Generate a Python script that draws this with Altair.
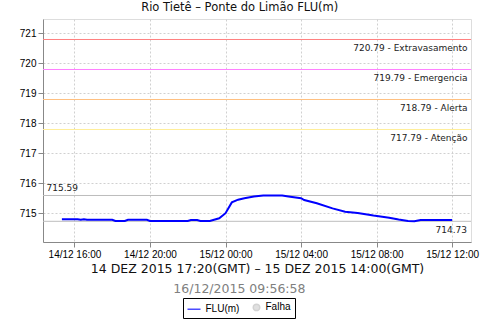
import altair as alt
import pandas as pd

# ---- data ----
times = ["2015-12-14T15:20", "2015-12-14T16:10", "2015-12-14T16:20", "2015-12-14T16:30",
         "2015-12-14T16:40", "2015-12-14T18:00", "2015-12-14T18:10", "2015-12-14T18:40",
         "2015-12-14T18:50", "2015-12-14T19:50", "2015-12-14T20:00", "2015-12-14T22:00",
         "2015-12-14T22:10", "2015-12-14T22:30", "2015-12-14T22:40", "2015-12-14T23:10",
         "2015-12-14T23:40", "2015-12-15T00:00", "2015-12-15T00:20", "2015-12-15T00:40",
         "2015-12-15T01:00", "2015-12-15T01:30", "2015-12-15T02:00", "2015-12-15T03:00",
         "2015-12-15T03:20", "2015-12-15T04:00", "2015-12-15T04:10", "2015-12-15T04:50",
         "2015-12-15T05:40", "2015-12-15T06:20", "2015-12-15T07:00", "2015-12-15T07:50",
         "2015-12-15T08:40", "2015-12-15T09:10", "2015-12-15T09:40", "2015-12-15T10:00",
         "2015-12-15T10:20", "2015-12-15T12:00"]
values = [714.80, 714.80, 714.78, 714.80, 714.78, 714.78, 714.74, 714.74,
          714.78, 714.78, 714.74, 714.74, 714.77, 714.77, 714.74, 714.74,
          714.83, 715.00, 715.36, 715.45, 715.50, 715.56, 715.59, 715.59,
          715.56, 715.50, 715.44, 715.33, 715.16, 715.05, 715.01, 714.92,
          714.85, 714.79, 714.74, 714.73, 714.77, 714.77]

level_values = [720.79, 719.79, 718.79, 717.79]
level_labels = ["720.79 - Extravasamento", "719.79 - Emergencia", "718.79 - Alerta", "717.79 - Atenção"]
level_colors = ["#ff8080", "#ff80ff", "#ffc080", "#ffee99"]

max_value = 715.59
min_value = 714.73

x_start = "2015-12-14T14:20:00Z"
x_end = "2015-12-15T13:00:00Z"
tick_times = [(14, 16), (14, 20), (15, 0), (15, 4), (15, 8), (15, 12)]
y_ticks = [715, 716, 717, 718, 719, 720, 721]
y_domain = [714.04, 721.4733]

title_text = "Rio Tietê – Ponte do Limão FLU(m)"
period_text = "14 DEZ 2015 17:20(GMT) – 15 DEZ 2015 14:00(GMT)"
stamp_text = "16/12/2015 09:56:58"
legend_names = ["FLU(m)", "Falha"]
legend_colors = ["#0000ff", "#c0c0c0"]

FONT = "DejaVu Sans"
W, H = 428, 223

series = pd.DataFrame({"t": [s + ":00Z" for s in times], "v": values})
levels = pd.DataFrame({"v": level_values, "label": level_labels, "c": level_colors,
                       "t": [x_end] * len(level_values)})
extremes = pd.DataFrame({"v": [max_value, min_value],
                         "label": [f"{max_value:.2f}", f"{min_value:.2f}"],
                         "tl": [x_start, x_start], "tr": [x_end, x_end]})

xscale = alt.Scale(type="utc", domain=[x_start, x_end])
yscale = alt.Scale(domain=y_domain, nice=False, zero=False)

xaxis = alt.Axis(
    values=[alt.DateTime(year=2015, month=12, date=d, hours=h, utc=True) for d, h in tick_times],
    labelExpr="utcFormat(datum.value, '%d/%m %H:%M')",
    title=period_text, titleFont=FONT, titleFontSize=12.5, titleFontWeight="normal",
    titleColor="#111", titleBaseline="alphabetic", titleY=30.7,
    grid=True, gridDash=[2, 2], gridColor="#d0d0d0",
    labelFlush=False, labelOverlap=False,
)
yaxis = alt.Axis(values=y_ticks, format="d", title=None, grid=True,
                 gridDash=[2, 2], gridColor="#d0d0d0", labelOverlap=False)


def X(field):
    return alt.X(field, scale=xscale, axis=xaxis)


def Y(field):
    return alt.Y(field, scale=yscale, axis=yaxis)


level_rules = alt.Chart(levels).mark_rule(strokeWidth=1).encode(
    y=Y("v:Q"), color=alt.Color("c:N", scale=None)
)
ext_rules = alt.Chart(extremes).mark_rule(color="#bdbdbd", strokeWidth=1).encode(y=Y("v:Q"))

line = alt.Chart(series).mark_line(color="#0000ff", strokeWidth=2).encode(
    x=X("t:T"), y=Y("v:Q"),
)

level_text = alt.Chart(levels).mark_text(
    align="right", baseline="alphabetic", dx=-3.5, dy=11.3, font=FONT, fontSize=9, color="#222"
).encode(x=X("t:T"), y=Y("v:Q"), text="label:N")

max_text = alt.Chart(extremes.iloc[[0]]).mark_text(
    align="left", baseline="alphabetic", dx=3.5, dy=-4.7, font=FONT, fontSize=9, color="#222"
).encode(x=X("tl:T"), y=Y("v:Q"), text="label:N")
min_text = alt.Chart(extremes.iloc[[1]]).mark_text(
    align="right", baseline="alphabetic", dx=-4, dy=12, font=FONT, fontSize=9, color="#222"
).encode(x=X("tr:T"), y=Y("v:Q"), text="label:N")

stamp = alt.Chart(pd.DataFrame({"s": [stamp_text]})).mark_text(
    align="center", baseline="alphabetic", font=FONT, fontSize=12.5, color="#808080"
).encode(x=alt.value(196.4), y=alt.value(273.7), text="s:N")


def leg():
    return alt.Legend(title=None, orient="none", legendX=140, legendY=279,
                      direction="horizontal", strokeColor="#000000", fillColor="#ffffff",
                      padding=3.5, cornerRadius=0)


legend_df = pd.DataFrame({"serie": legend_names})
legend_layer = alt.Chart(legend_df).transform_filter("false").mark_point(filled=True).encode(
    x=X("t:T"), y=Y("v:Q"),
    fill=alt.Fill("serie:N", scale=alt.Scale(domain=legend_names, range=legend_colors), legend=leg()),
    stroke=alt.Stroke("serie:N", scale=alt.Scale(domain=legend_names, range=legend_colors), legend=leg()),
    shape=alt.Shape("serie:N", scale=alt.Scale(domain=legend_names, range=["stroke", "circle"]), legend=leg()),
    size=alt.Size("serie:N", scale=alt.Scale(domain=legend_names, range=[169, 42]), legend=leg()),
)

chart = alt.layer(
    level_rules, ext_rules, line, level_text, max_text, min_text, stamp, legend_layer
).properties(
    width=W, height=H,
    title=alt.TitleParams(title_text, font=FONT, fontSize=11.5, fontWeight="normal",
                          color="#111", anchor="middle", frame="group", dx=-17.3,
                          baseline="alphabetic", offset=7, dy=10),
    autosize=alt.AutoSizeParams(type="none"),
    padding={"left": 43, "top": 19, "right": 9, "bottom": 78},
).configure_view(
    stroke="#b0b0b0", strokeWidth=1
).configure_axis(
    labelFont=FONT, labelFontSize=9.5, labelColor="#222",
    domainColor="#808080", tickColor="#808080", tickSize=3, labelPadding=3.5,
).configure_legend(
    labelFont=FONT, labelFontSize=12, labelColor="#111",
    symbolStrokeWidth=2, columnPadding=8, labelOffset=4,
).configure(background="#ffffff")

chart.save("out.html", embed_options={"renderer": "svg", "actions": False})
